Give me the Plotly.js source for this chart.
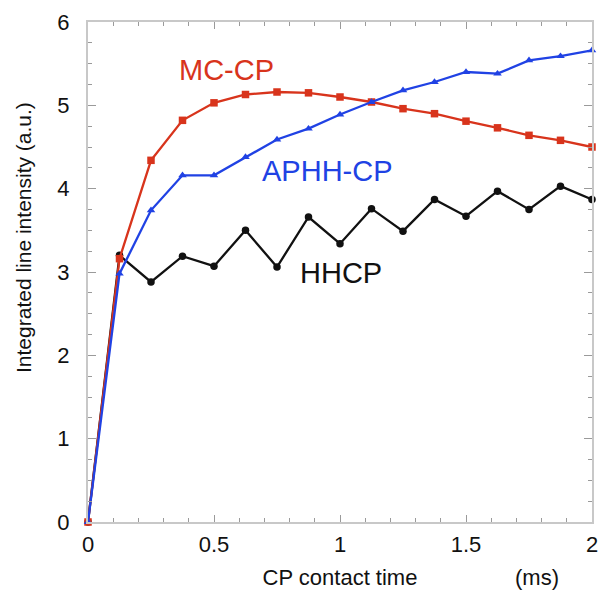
<!DOCTYPE html>
<html>
<head>
<meta charset="utf-8">
<script src="https://cdn.plot.ly/plotly-3.0.1.min.js"></script>
<style>html,body{margin:0;padding:0;background:#fff;}#chart{width:598px;height:590px;}</style>
</head>
<body>
<div id="chart"></div>
<script>
// contact time (ms)
var contactTime = [0, 0.125, 0.25, 0.375, 0.5, 0.625, 0.75, 0.875, 1.0, 1.125, 1.25, 1.375, 1.5, 1.625, 1.75, 1.875, 2.0];
// integrated line intensity (a.u.)
var mccp   = [0, 3.16, 4.34, 4.82, 5.03, 5.13, 5.16, 5.15, 5.10, 5.04, 4.96, 4.90, 4.81, 4.73, 4.64, 4.58, 4.50];
var aphhcp = [0, 2.98, 3.74, 4.16, 4.16, 4.38, 4.59, 4.72, 4.89, 5.04, 5.18, 5.28, 5.40, 5.38, 5.54, 5.59, 5.66];
var hhcp   = [0, 3.20, 2.88, 3.19, 3.07, 3.50, 3.06, 3.66, 3.34, 3.76, 3.49, 3.87, 3.67, 3.97, 3.75, 4.03, 3.87];
var seriesNames = ['HHCP', 'MC-CP', 'APHH-CP'];
var xTitle = 'CP contact time';
var unitLabel = '(ms)';
var yTitle = 'Integrated line intensity (a.u.)';

var FONT = 'Liberation Sans, Arial, Helvetica, sans-serif';
var RED = '#d8341c', BLUE = '#2042e4', BLACK = '#111111';

var traces = [
  {x: contactTime, y: hhcp, name: seriesNames[0], type: 'scatter', mode: 'lines+markers', cliponaxis: false,
   line: {color: BLACK, width: 2.3}, marker: {symbol: 'circle', size: 7.5, color: BLACK}},
  {x: contactTime, y: mccp, name: seriesNames[1], type: 'scatter', mode: 'lines+markers', cliponaxis: false,
   line: {color: RED, width: 2.3}, marker: {symbol: 'square', size: 7.5, color: RED}},
  {x: contactTime, y: aphhcp, name: seriesNames[2], type: 'scatter', mode: 'lines+markers', cliponaxis: false,
   line: {color: BLUE, width: 2.3}, marker: {symbol: 'triangle-up', size: 7.5, color: BLUE}}
];

var axisCommon = {
  ticks: 'inside', tickcolor: '#9a9a9a', tickwidth: 1,
  showline: true, linecolor: '#c8c8c8', linewidth: 2, mirror: 'ticks',
  showgrid: false, zeroline: false, ticklabeloverflow: 'allow',
  tickfont: {family: FONT, size: 22, color: '#111'}
};

var layout = {
  width: 598, height: 590,
  margin: {l: 88, r: 6, t: 22, b: 68},
  paper_bgcolor: '#fff', plot_bgcolor: '#fff',
  showlegend: false,
  font: {family: FONT, color: '#111'},
  xaxis: Object.assign({}, axisCommon, {
    range: [0, 2], tick0: 0, dtick: 0.5, ticklen: 7, ticklabelstandoff: 2,
    minor: {tick0: 0, dtick: 0.1, ticks: 'inside', ticklen: 4, tickcolor: '#9a9a9a', showgrid: false},
    title: {text: xTitle, font: {family: FONT, size: 22, color: '#111'}, standoff: 14}
  }),
  yaxis: Object.assign({}, axisCommon, {
    range: [0, 6], tick0: 0, dtick: 1, ticklen: 8, ticklabelstandoff: 12,
    minor: {tick0: 0, dtick: 0.25, ticks: 'inside', ticklen: 4, tickcolor: '#9a9a9a', showgrid: false}
  }),
  annotations: [
    {text: seriesNames[1], x: 0.55, y: 5.42, xref: 'x', yref: 'y', showarrow: false,
     font: {family: FONT, size: 29, color: RED}},
    {text: seriesNames[2], x: 0.95, y: 4.21, xref: 'x', yref: 'y', showarrow: false,
     font: {family: FONT, size: 29, color: BLUE}},
    {text: seriesNames[0], x: 1.005, y: 2.99, xref: 'x', yref: 'y', showarrow: false,
     font: {family: FONT, size: 29, color: BLACK}},
    {text: unitLabel, x: 1.78, xref: 'x', y: -0.11, yref: 'paper', xanchor: 'center', yanchor: 'middle', showarrow: false,
     font: {family: FONT, size: 22, color: '#111'}},
    {text: yTitle, x: -0.129, xref: 'paper', y: 0.57, yref: 'paper', xanchor: 'center', yanchor: 'middle',
     showarrow: false, textangle: -90,
     font: {family: FONT, size: 21, color: '#111'}}
  ]
};

Plotly.newPlot('chart', traces, layout, {staticPlot: true, displayModeBar: false});
</script>
</body>
</html>
